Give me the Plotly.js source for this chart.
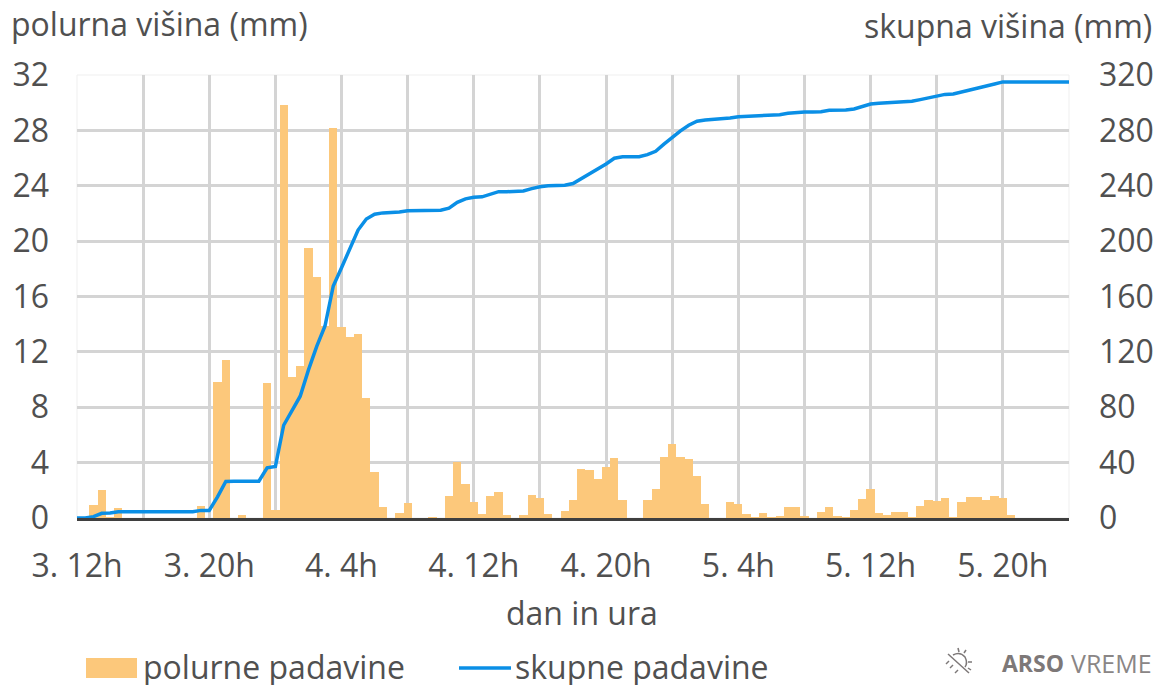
<!DOCTYPE html>
<html>
<head>
<meta charset="utf-8">
<script src="https://cdn.plot.ly/plotly-3.0.1.min.js"></script>
<style>html,body{margin:0;padding:0;background:#fff}#c{width:1164px;height:686px}</style>
</head>
<body>
<div id="c"></div>
<script>
// half-hour steps from 3. 12h
var halfHourly = [0,0,0.94,2.0,0.1,0.75,0,0,0,0,0,0,0,0,0,0.9,0,9.83,11.44,0,0.24,0,0,9.78,0.55,29.8,10.2,11.0,19.5,17.4,13.85,28.2,13.8,13.1,13.3,8.7,3.3,0.8,0,0.35,1.07,0,0,0.1,0,1.57,4.05,2.43,1.18,0.3,1.57,1.88,0.25,0,0.2,1.66,1.47,0.3,0,0.53,1.28,3.54,3.47,2.8,3.66,4.34,1.28,0,0.03,1.3,2.07,4.41,5.35,4.41,4.27,3.04,1.01,0,0,1.16,1.04,0.27,0.05,0.35,0.08,0.15,0.82,0.82,0.15,0,0.42,0.8,0.15,0.1,0.58,1.35,2.1,0.34,0.2,0.42,0.44,0.1,0.87,1.28,1.23,1.45,0.1,1.13,1.52,1.5,1.28,1.57,1.45,0.2,0,0,0,0,0,0,0];
var cumulative = [0,0,1,3.4,3.6,4.5,4.6,4.6,4.6,4.6,4.6,4.6,4.6,4.6,4.6,5.5,5.5,15.3,26.4,26.5,26.6,26.6,26.6,36.3,37.3,67,77,88,107,124,138.7,167.6,180.8,194,208,216,219.4,220.4,220.5,221,222,222,222,222,222.3,223.8,228,230.5,231.7,232,233.6,235.7,235.7,236,236.2,237.9,239.3,240,240,240.4,241.6,245,249,251.9,255.7,259.9,261,261,261,262.5,264.9,270,275,279.6,283.7,286.6,287.5,288,288,289,289.9,290.2,290.4,291,291,291.3,292.3,293,293.3,293.3,293.5,294.5,294.5,294.7,295.5,297.1,299,299.6,300,300.2,300.7,301,302.2,303.6,304.8,306,306.3,307.5,309.2,310.6,311.8,313.5,315,315,315,315,315,315,315,315,315];
var steps = cumulative.map(function(_, i){ return i; });
var dayHourLabels = ["3. 12h","3. 20h","4. 4h","4. 12h","4. 20h","5. 4h","5. 12h","5. 20h"];
var leftTicks = [0,4,8,12,16,20,24,28,32];
var rightTicks = [0,40,80,120,160,200,240,280,320];

var tickSteps = [], tickTexts = [];
for (var i = 0; i < 15; i++) { tickSteps.push(i * 8); tickTexts.push(i % 2 === 0 ? dayHourLabels[i / 2] : ""); }

var PL = 77, PR = 1069, PT = 75, PB = 518;
function X(p){ return (p - PL) / (PR - PL); }
function Y(p){ return (PB - p) / (PB - PT); }
var txt = "#505050", font = "'Open Sans', sans-serif", FS = 32;
function seg(x0,y0,x1,y1,c,w){ return {type:"line",xref:"paper",yref:"paper",x0:X(x0),y0:Y(y0),x1:X(x1),y1:Y(y1),line:{color:c,width:w}}; }
function label(text,x,y,anchor,size,color,h){
  var a = {text:text,xref:"paper",yref:"paper",x:X(x),y:Y(y),xanchor:anchor,yanchor:"middle",showarrow:false,
    font:{family:font,size:size||FS,color:color||txt}};
  if (h) a.height = h;
  return a;
}
var barColor = "#fcc87b", lineColor = "#0a8fe6", logo = "#7d7878";

var traces = [
  {type:"bar",name:"polurne padavine",x:steps,y:halfHourly,width:1,marker:{color:barColor,line:{width:0}},yaxis:"y",hoverinfo:"y"},
  {type:"scatter",mode:"lines",name:"skupne padavine",x:steps,y:cumulative,yaxis:"y2",cliponaxis:false,line:{color:lineColor,width:3.5},hoverinfo:"y"}
];

var layout = {
  width:1164,height:686,
  margin:{l:PL,r:1164-PR,t:PT,b:686-PB,pad:0},
  paper_bgcolor:"#fff",plot_bgcolor:"#fff",
  showlegend:false,bargap:0,
  font:{family:font,size:FS,color:txt},
  xaxis:{range:[0,120],tickmode:"array",tickvals:tickSteps,ticktext:tickTexts,tickangle:0,ticks:"",showgrid:true,gridcolor:"#d4d4d4",gridwidth:3,
    zeroline:false,showline:true,linecolor:"#3f3f3f",linewidth:3,layer:"below traces",automargin:false,ticklabelstandoff:18,
    tickfont:{family:font,size:FS,color:txt}},
  yaxis:{range:[0,32],tickmode:"array",tickvals:leftTicks,ticks:"",showgrid:true,gridcolor:"#d4d4d4",gridwidth:3,zeroline:false,showline:false,automargin:false,
    tickfont:{family:font,size:FS,color:txt},ticklabelstandoff:27},
  yaxis2:{range:[0,320],overlaying:"y",side:"right",tickmode:"array",tickvals:rightTicks,ticks:"",showgrid:false,zeroline:false,showline:false,automargin:false,
    tickfont:{family:font,size:FS,color:txt},ticklabelstandoff:29},
  shapes:[
    {type:"rect",xref:"paper",yref:"paper",x0:0,x1:1,y0:0,y1:1,line:{color:"#efefef",width:1},layer:"below"},
    {type:"rect",xref:"paper",yref:"paper",x0:X(86),x1:X(137),y0:Y(678),y1:Y(658),fillcolor:barColor,line:{width:0}},
    seg(459,668,511,668,lineColor,3.5),
    // logo icon
    seg(948,654,969,673,logo,1.5),
    {type:"path",xref:"paper",yref:"paper",path:"M"+X(953)+","+Y(655)+" Q"+X(960)+","+Y(651)+" "+X(965)+","+Y(657)+" Q"+X(968)+","+Y(663)+" "+X(965)+","+Y(667),line:{color:logo,width:1.5}},
    seg(958,648,959,652,logo,1.5),seg(966,650,964,653,logo,1.5),seg(972,662,968,662,logo,1.5),seg(971,670,968,668,logo,1.5),
    seg(946,664,949,661,logo,1.5),seg(950,668,953,665,logo,1.5),seg(955,673,958,670,logo,1.5)
  ],
  annotations:[
    label("polurna višina (mm)",9,23.5,"left"),
    label("skupna višina (mm)",1154,25.5,"right"),
    label("dan in ura",582,612,"center"),
    label("polurne padavine",141,666,"left",FS,txt,38),
    label("skupne padavine",513,666,"left",FS,txt,38),
    label("<b>ARSO</b>",1000,663,"left",23,logo),
    label("VREME",1069,663,"left",25,"#8a8686")
  ]
};
Plotly.newPlot("c",traces,layout,{displayModeBar:false,staticPlot:true});
</script>
</body>
</html>
